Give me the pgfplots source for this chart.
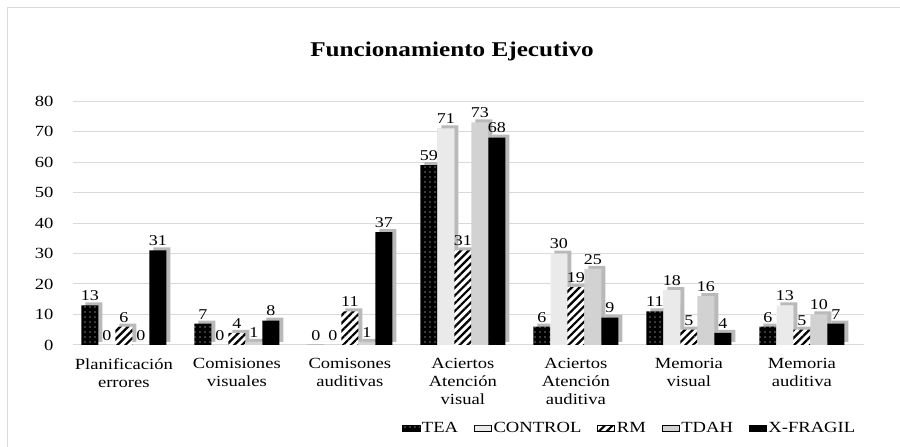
\documentclass[border=0pt]{standalone}
\usepackage{fontspec}
\setmainfont{Liberation Serif}[FakeStretch=1.2]
\usepackage{pgfplots}
\pgfplotsset{compat=1.18}
\usetikzlibrary{patterns.meta}

\pgfplotsset{
  front/.style={ybar, bar width=17pt, bar shift=#1, draw=none, area legend,
    nodes near coords,
    every node near coord/.append style={font=\fontsize{15}{18}\selectfont, xshift=#1, yshift=1pt}},
  depth/.style={ybar, bar width=17pt, bar shift=#1, draw=none, fill=gray!55,
    xshift=4pt, yshift=3pt, forget plot},
}

\begin{document}
\begin{tikzpicture}
\useasboundingbox (0,0) rectangle (900pt,447pt);
\draw[gray!30, line width=1pt] (7pt,0) -- (7pt,439pt) -- (900pt,439pt);
\node[font=\bfseries\fontsize{21}{25}\selectfont] at (452pt,396pt) {Funcionamiento Ejecutivo};

\begin{axis}[
  at={(73pt,102pt)}, anchor=south west,
  scale only axis, width=791pt, height=244pt,
  xmin=-0.45, xmax=6.55, ymin=0, ymax=80,
  ytick={0,10,...,80},
  xtick={0,...,6},
  xticklabels={{Planificación\\errores},{Comisiones\\visuales},{Comisones\\auditivas},
    {Aciertos\\Atención\\visual},{Aciertos\\Atención\\auditiva},{Memoria\\visual},{Memoria\\auditiva}},
  xticklabel style={align=center, font=\fontsize{15.5}{18}\selectfont, yshift=-10pt},
  yticklabel style={font=\fontsize{15.5}{18}\selectfont, xshift=-16pt},
  /pgf/number format/assume math mode=true,
  axis line style={draw=none},
  major tick length=0pt,
  ymajorgrids, major grid style={gray!30, line width=1pt},
  legend style={draw=none, at={(0.704,-0.340)}, anchor=center, font=\fontsize{15.5}{18}\selectfont,
    legend columns=-1, /tikz/every even column/.append style={column sep=14pt}},
  legend image code/.code={\draw[#1] (0pt,-3.5pt) rectangle (7pt,3.5pt);},
  legend cell align=left,
]
% depth faces
\addplot[depth=-34pt] coordinates {(0,13) (1,7) (2,0) (3,59) (4,6) (5,11) (6,6)};
\addplot[depth=-17pt] coordinates {(0,0) (1,0) (2,0) (3,71) (4,30) (5,18) (6,13)};
\addplot[depth=0pt] coordinates {(0,6) (1,4) (2,11) (3,31) (4,19) (5,5) (6,5)};
\addplot[depth=17pt] coordinates {(0,0) (1,1) (2,1) (3,73) (4,25) (5,16) (6,10)};
\addplot[depth=34pt] coordinates {(0,31) (1,8) (2,37) (3,68) (4,9) (5,4) (6,7)};
% front faces
\addplot[front=-34pt, fill=black,
  postaction={pattern={Dots[distance=5pt, radius=0.7pt]}, pattern color=white}]
  coordinates {(0,13) (1,7) (2,0) (3,59) (4,6) (5,11) (6,6)};
\addplot[front=-17pt, fill=white,
  postaction={pattern={Dots[distance=2pt, radius=0.55pt]}, pattern color=gray!70}]
  coordinates {(0,0) (1,0) (2,0) (3,71) (4,30) (5,18) (6,13)};
\addplot[front=0pt, fill=white,
  postaction={pattern={Lines[angle=45, distance=5.5pt, line width=2.2pt]}, pattern color=black}]
  coordinates {(0,6) (1,4) (2,11) (3,31) (4,19) (5,5) (6,5)};
\addplot[front=17pt, fill=gray!35]
  coordinates {(0,0) (1,1) (2,1) (3,73) (4,25) (5,16) (6,10)};
\addplot[front=34pt, fill=black]
  coordinates {(0,31) (1,8) (2,37) (3,68) (4,9) (5,4) (6,7)};
\legend{TEA,CONTROL,RM,TDAH,X-FRAGIL}
\end{axis}
\end{tikzpicture}
\end{document}
